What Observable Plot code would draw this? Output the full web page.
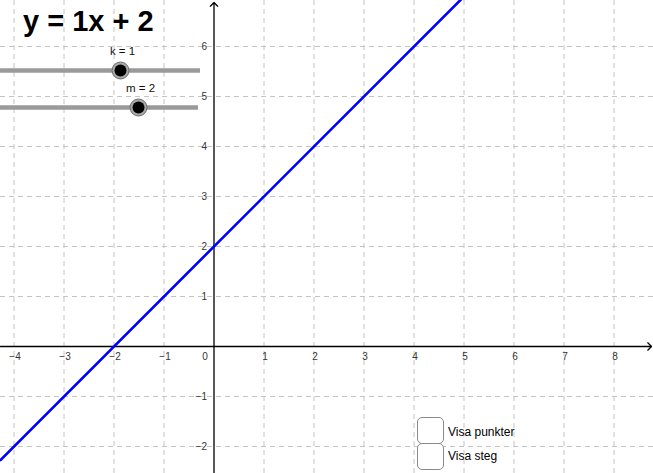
<!DOCTYPE html>
<html>
<head>
<meta charset="utf-8">
<script src="https://cdn.jsdelivr.net/npm/d3@7"></script>
<script src="https://cdn.jsdelivr.net/npm/@observablehq/plot@0.6"></script>
<style>
  body { margin: 0; background: #fff; font-family: "Liberation Sans", Arial, sans-serif; }
  #app { position: relative; width: 653px; height: 473px; overflow: hidden; background: #fff; }
  #app > * { position: absolute; }
  .title { left: 23px; top: 7px; font-size: 29px; font-weight: bold; line-height: 29px; white-space: pre; color: #000; }
  .box { box-sizing: border-box; width: 27px; height: 27px; border: 1.4px solid #8a8a8a; border-radius: 5px; background: #fff; }
  .cb-label { font-size: 12px; line-height: 14px; color: #000; white-space: nowrap; }
</style>
</head>
<body>
<div id="app"></div>
<script>
// Line parameters (slider values)
const k = 1;
const m = 2;
const sliderMin = -5;
const sliderMax = 5;

// Grid and tick values
const xGrid = [-4, -3, -2, -1, 1, 2, 3, 4, 5, 6, 7, 8];
const yGrid = [-2, -1, 1, 2, 3, 4, 5, 6];

// Checkbox captions
const checkboxLabels = ["Visa punkter", "Visa steg"];

const xDomain = [-4.27, 8.79];
const yDomain = [-2.54, 6.92];

const fmt = d => (d < 0 ? "\u2212" + (-d) : String(d));
const font = "Liberation Sans, Arial, sans-serif";
const app = document.getElementById("app");

// Main coordinate system
const gridStyle = { stroke: "#c4c4c4", strokeWidth: 1, strokeDasharray: "5,4" };
const lineXs = xDomain;

const chart = Plot.plot({
  width: 653,
  height: 473,
  margin: 0,
  x: { domain: xDomain, axis: null },
  y: { domain: yDomain, axis: null },
  style: { fontFamily: font, fontSize: "10px", background: "transparent", overflow: "visible" },
  marks: [
    Plot.ruleX(xGrid, gridStyle),
    Plot.ruleY(yGrid, gridStyle),
    Plot.arrow([0], { x1: xDomain[0], y1: 0, x2: 8.75, y2: 0, stroke: "#000", strokeWidth: 1.3, headLength: 6, headAngle: 90, bend: 0 }),
    Plot.arrow([0], { x1: 0, y1: yDomain[0], x2: 0, y2: 6.88, stroke: "#000", strokeWidth: 1.3, headLength: 6, headAngle: 90, bend: 0 }),
    Plot.text(xGrid, { x: d => d, y: 0, text: fmt, dy: 10, dx: 1, fill: "#333", fontSize: 10 }),
    Plot.text(yGrid, { x: 0, y: d => d, text: fmt, dx: -7, textAnchor: "end", fill: "#333", fontSize: 10 }),
    Plot.text([0], { x: 0, y: 0, text: fmt, dx: -9, dy: 10, fill: "#333", fontSize: 10 }),
    Plot.line(lineXs, { x: d => d, y: d => k * d + m, stroke: "#0000ff", strokeWidth: 2.6, clip: true })
  ]
});
chart.style.left = "0px";
chart.style.top = "0px";
app.appendChild(chart);

// Title
const title = document.createElement("div");
title.className = "title";
title.textContent = `y = ${k}x + ${m}`;
app.appendChild(title);

// Sliders
function slider(name, value, left, top) {
  const s = Plot.plot({
    width: 215,
    height: 42,
    margin: 0,
    x: { domain: [sliderMin, sliderMax], range: [0, 200], axis: null },
    y: { domain: [0, 1], range: [30, 11], axis: null },
    style: { fontFamily: font, fontSize: "11px", background: "transparent", overflow: "visible" },
    marks: [
      Plot.ruleY([0], { x1: sliderMin, x2: sliderMax, stroke: "#9a9a9a", strokeWidth: 4.4 }),
      Plot.dot([value], { x: d => d, y: 0, r: 8.5, fill: "#a8a8a8", stroke: "#6e6e6e", strokeWidth: 1 }),
      Plot.dot([value], { x: d => d, y: 0, r: 6, fill: "#000" }),
      Plot.text([value], { x: d => d, y: 1, text: d => `${name} = ${d}`, dx: 2, fill: "#111", fontSize: 11.5 })
    ]
  });
  s.style.left = left + "px";
  s.style.top = top + "px";
  app.appendChild(s);
}
slider("k", k, 0, 40);
slider("m", m, -2, 77);

// Checkboxes
checkboxLabels.forEach((label, i) => {
  const box = document.createElement("div");
  box.className = "box";
  box.style.left = "416.5px";
  box.style.top = (416.5 + i * 26.5) + "px";
  app.appendChild(box);
  const cap = document.createElement("div");
  cap.className = "cb-label";
  cap.textContent = label;
  cap.style.left = "448px";
  cap.style.top = (425 + i * 23.5) + "px";
  app.appendChild(cap);
});
</script>
</body>
</html>
